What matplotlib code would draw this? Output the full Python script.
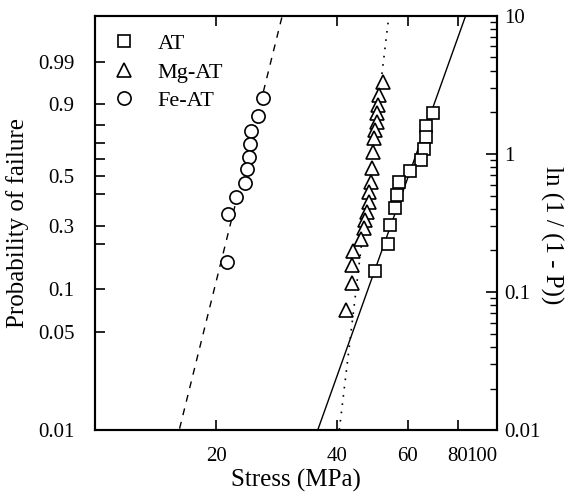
import numpy as np
import matplotlib
matplotlib.use("Agg")
import matplotlib.pyplot as plt
import matplotlib.transforms as mtransforms
from matplotlib.ticker import FixedLocator, NullLocator

plt.rcParams['font.family'] = ['Liberation Serif', 'DejaVu Serif']

# ---- data (stress in MPa, probability of failure) ----
at_stress = [69.3, 66.7, 66.5, 65.7, 64.6, 60.8, 57.1, 56.3, 55.6, 54.2, 53.7, 49.8]
at_prob = [0.864, 0.798, 0.734, 0.664, 0.596, 0.530, 0.464, 0.396, 0.332, 0.265, 0.200, 0.133]

mg_stress = [52.0, 50.9, 50.6, 50.4, 50.2, 49.7, 49.5, 49.2, 48.8, 48.5,
             48.1, 48.0, 47.4, 47.0, 46.8, 45.8, 43.9, 43.7, 43.5, 42.0]
mg_prob = [0.963, 0.931, 0.896, 0.861, 0.820, 0.775, 0.727, 0.647, 0.545, 0.467,
           0.413, 0.363, 0.318, 0.283, 0.252, 0.215, 0.180, 0.145, 0.109, 0.072]

fe_stress = [26.1, 25.5, 24.4, 24.3, 24.1, 23.9, 23.6, 22.4, 21.4, 21.3]
fe_prob = [0.920, 0.848, 0.770, 0.690, 0.615, 0.539, 0.462, 0.385, 0.306, 0.153]

# Weibull fits: modulus m and characteristic strength s0 (MPa)
at_m, at_s0 = 8.15, 63.0
mg_m, mg_s0 = 24.3, 48.97
fe_m, fe_s0 = 11.7, 24.0

# axis ticks
x_ticks = [20, 40, 60, 80, 100]
x_labels = ['20', '40', '60', '80', '100']
p_tick_pos = [4.605, 2.303, 1.609, 1.204, 0.916, 0.693, 0.511, 0.30, 0.223, 0.1054, 0.0513, 0.01005]
p_tick_labels = ['0.99', '0.9', '', '', '', '0.5', '', '0.3', '', '0.1', '0.05', '0.01']
r_ticks = [0.01, 0.1, 1, 10]
r_labels = ['0.01', '0.1', '1', '10']


def lnp(p):
    p = np.asarray(p)
    return np.log(1.0 / (1.0 - p))


fig = plt.figure(figsize=(5.66, 4.95), dpi=100)
ax = fig.add_axes([0.168, 0.131, 0.710, 0.837])
ax.set_xscale('log')
ax.set_yscale('log')
ax.set_xlim(10, 100)
ax.set_ylim(0.01, 10)

mk = dict(mfc='white', mec='black', mew=1.2, ls='none', color='black')
ax.plot(at_stress, lnp(at_prob), marker='s', ms=8.5, label='AT', **mk)
ax.plot(mg_stress, lnp(mg_prob), marker='^', ms=10.5, label='Mg-AT', **mk)
ax.plot(fe_stress, lnp(fe_prob), marker='o', ms=9.5, label='Fe-AT', **mk)

s = np.logspace(1, 2, 400)
ax.plot(s, (s / at_s0) ** at_m, color='black', lw=1.0, ls='-', zorder=1)
ax.plot(s, (s / mg_s0) ** mg_m, color='black', lw=1.2, ls=(0, (1, 4)), zorder=1)
ax.plot(s, (s / fe_s0) ** fe_m, color='black', lw=1.0, ls=(0, (5, 5)), zorder=1)

ax.xaxis.set_major_locator(FixedLocator(x_ticks))
ax.set_xticklabels(x_labels)
ax.xaxis.set_minor_locator(NullLocator())
last = ax.get_xticklabels()[-1]
last.set_horizontalalignment('right')
last.set_transform(last.get_transform() +
                   mtransforms.ScaledTranslation(2 / 72, 0, fig.dpi_scale_trans))
ax.yaxis.set_major_locator(FixedLocator(p_tick_pos))
ax.set_yticklabels(p_tick_labels)
ax.yaxis.set_minor_locator(NullLocator())
ax.tick_params(axis='both', which='major', direction='in', length=7, width=1.2,
               labelsize=15, top=True, right=False)
ax.tick_params(axis='y', pad=15)
ax.tick_params(axis='x', pad=12)

for sp in ax.spines.values():
    sp.set_linewidth(1.5)

ax.set_xlabel('Stress (MPa)', fontsize=18, labelpad=2)
ax.set_ylabel('Probability of failure', fontsize=18, labelpad=6)

ax2 = ax.twinx()
ax2.set_yscale('log')
ax2.set_ylim(0.01, 10)
ax2.yaxis.set_major_locator(FixedLocator(r_ticks))
ax2.set_yticklabels(r_labels)
ax2.tick_params(axis='y', which='major', direction='in', length=8, width=1.2, labelsize=15, pad=5)
ax2.tick_params(axis='y', which='minor', direction='in', length=5, width=1.0)
ax2.set_ylabel('ln (1 / (1 - P))', fontsize=18, rotation=270, va='center', ha='center',
               rotation_mode='default')
ax2.yaxis.set_label_coords(1.137, 0.47)
for sp in ax2.spines.values():
    sp.set_linewidth(1.5)

leg = ax.legend(loc='upper left', frameon=False, fontsize=16, handletextpad=1.0,
                borderaxespad=0.4, labelspacing=0.35, handlelength=1.0)

fig.savefig('out.png', dpi=100)
